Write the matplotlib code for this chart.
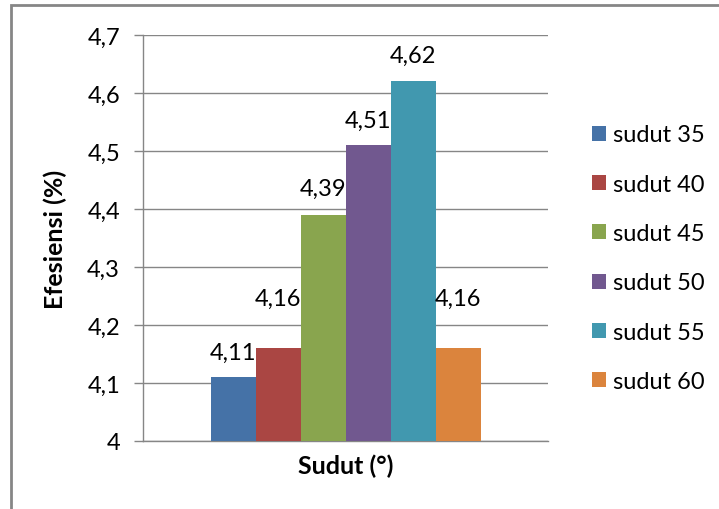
import numpy as np
import matplotlib.pyplot as plt
from matplotlib.patches import Rectangle, Patch

plt.rcParams['font.family'] = ['Lato', 'DejaVu Sans']

# efficiency for each tilt angle
labels = ['sudut 35', 'sudut 40', 'sudut 45', 'sudut 50', 'sudut 55', 'sudut 60']
efesiensi = [4.11, 4.16, 4.39, 4.51, 4.62, 4.16]
colors = ['#4572A7', '#AA4643', '#89A54E', '#71588F', '#4198AF', '#DB843D']
yticks = [4.0, 4.1, 4.2, 4.3, 4.4, 4.5, 4.6, 4.7]

grey = '#868686'
fs = 17

fig = plt.figure(figsize=(7.19, 5.1), dpi=100)
# chart border
fig.patches.append(Rectangle((10.5 / 719, -0.1), 1.0, 1.1 - 5.5 / 510,
                             transform=fig.transFigure, fill=False,
                             edgecolor=grey, linewidth=2))

ax = fig.add_axes([143 / 719, 68 / 510, 405 / 719, 406 / 510])

x = np.arange(len(efesiensi))
ax.bar(x, efesiensi, width=1.0, color=colors, zorder=3)

# value labels (the two 4,16 labels are pushed up a bit more)
offs = [18, 36, 19, 18, 19, 36]
for xi, v, o in zip(x, efesiensi, offs):
    ax.annotate(f'{v:.2f}'.replace('.', ','), (xi, v), xytext=(0, o),
                textcoords='offset points', ha='center', va='center',
                fontsize=fs)

ax.set_xlim(-2, 7)
ax.set_ylim(4.0, 4.7)
ax.set_yticks(yticks)
ax.set_yticklabels([('%.1f' % t).replace('.', ',').replace(',0', '') for t in yticks],
                   fontsize=fs)
ax.set_xticks([])
ax.tick_params(axis='y', length=6.5, color=grey, width=1, pad=10)
ax.grid(axis='y', color=grey, linewidth=1, zorder=0)
for s in ['top', 'right']:
    ax.spines[s].set_visible(False)
for s in ['left', 'bottom']:
    ax.spines[s].set_color(grey)
    ax.spines[s].set_linewidth(1)

ax.set_ylabel('Efesiensi (%)', fontsize=18, fontweight='bold', va='center')
ax.yaxis.set_label_coords(-0.217, 0.5)
ax.set_xlabel('Sudut (°)', fontsize=18, fontweight='bold', va='center')
ax.xaxis.set_label_coords(0.5, -0.059)

handles = [Patch(facecolor=c) for c in colors]
ax.legend(handles, labels, loc='center left', bbox_to_anchor=(1.08, 0.45),
          frameon=False, fontsize=fs, handlelength=0.6, handleheight=0.6,
          handletextpad=0.3, labelspacing=1.2, borderpad=0)

fig.savefig('out.png', dpi=100)
